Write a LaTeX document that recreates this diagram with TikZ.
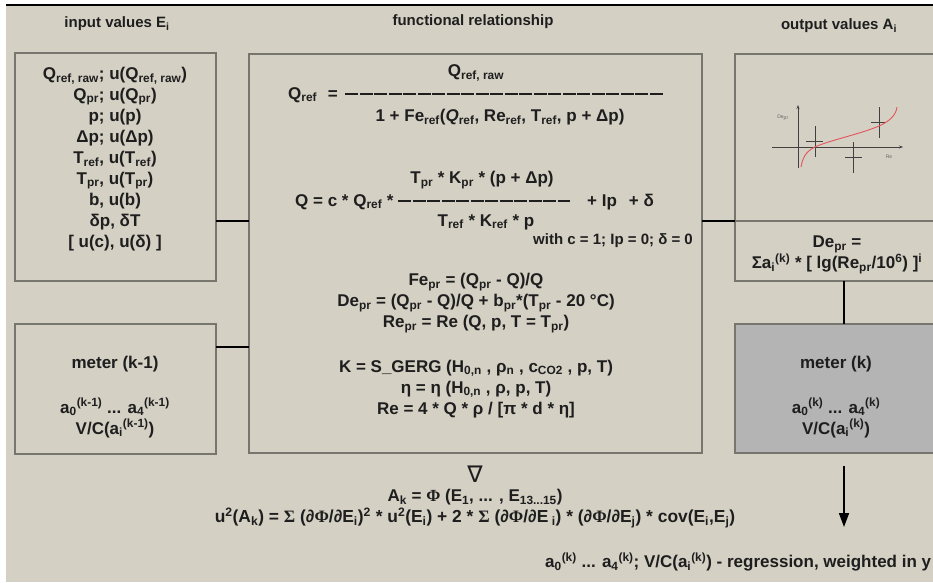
\documentclass[tikz,border=0pt]{standalone}
\usepackage{fontspec}
\setmainfont{Liberation Sans}
\newfontfamily\dejavu{DejaVu Sans}
\newfontfamily\serifgr{Liberation Serif}
\usetikzlibrary{arrows.meta}
\definecolor{bg}{RGB}{212,208,196}
\definecolor{edge}{RGB}{118,118,110}
\definecolor{meterfill}{RGB}{180,180,180}
\definecolor{curvered}{RGB}{228,84,92}
\definecolor{ink}{RGB}{30,30,30}
\newcommand\mysub[1]{\textsubscript{#1}}
\newcommand\mysup[1]{\textsuperscript{#1}}
\tikzset{
  box/.style={draw=edge, line width=1.2pt, fill=bg, inner sep=0pt, outer sep=0pt, anchor=north west},
  conn/.style={line width=1.8pt, draw=black},
  hdr/.style={font=\fontsize{15}{18}\selectfont\bfseries, text=ink, inner sep=0pt},
  txt/.style={font=\fontsize{17}{21}\selectfont\bfseries, text=ink, align=center, inner sep=0pt},
  small/.style={font=\fontsize{15}{18}\selectfont\bfseries, text=ink, inner sep=0pt},
  fracbar/.style={line width=1.3pt, draw=ink, dash pattern=on 13pt off 1.5pt},
  plotline/.style={line width=0.9pt, draw=black!75},
  tiny/.style={font=\fontsize{5}{6}\selectfont, text=black!60, inner sep=0pt}
}
\begin{document}
\begin{tikzpicture}[x=1pt,y=-1pt]
\useasboundingbox (0,0) rectangle (933,582);
\clip (0,0) rectangle (933,582);
\fill[white] (0,0) rectangle (933,582);
\fill[bg] (6,5) rectangle (933,582);
\draw[line width=2pt] (6,4.5) -- (933,4.5);

% headers
\node[hdr] (h1) at (117,24) {input values E\mysub{i}};
\node[hdr] (h2) at (473,22) {functional relationship};
\node[hdr] (h3) at (839,26) {output values A\mysub{i}};

% boxes
\node[box, minimum width=201pt, minimum height=228pt] (inbox) at (15,53) {};
\node[box, minimum width=201pt, minimum height=130pt] (meterprev) at (15,324) {};
\node[box, minimum width=453pt, minimum height=399pt] (func) at (249,54) {};
\node[box, minimum width=210pt, minimum height=167pt] (plotbox) at (735,54) {};
\node[box, minimum width=210pt, minimum height=60pt] (depr) at (735,221) {};
\node[box, fill=meterfill, minimum width=210pt, minimum height=129pt] (meterk) at (735,324) {};

% connectors
\coordinate (c1) at (0,221);
\coordinate (c2) at (0,347);
\draw[conn] (inbox.east |- c1) -- (func.west |- c1);
\draw[conn] (meterprev.east |- c2) -- (func.west |- c2);
\draw[conn] (func.east |- c1) -- (plotbox.south west);
\draw[conn] (depr.south -| 844,0) -- (meterk.north -| 844,0);
\coordinate (arrowstart) at (844,466);
\coordinate (arrowend) at (844,527);
\draw[line width=1.8pt, -{Triangle[length=14pt,width=10pt]}] (arrowstart) -- (arrowend);

% left box text
\node[txt] (intext) at (115,159) {Q\mysub{ref, raw}; u(Q\mysub{ref, raw})\\
Q\mysub{pr}; u(Q\mysub{pr})\\
p; u(p)\\
Δp; u(Δp)\\
T\mysub{ref}, u(T\mysub{ref})\\
T\mysub{pr}, u(T\mysub{pr})\\
b, u(b)\\
δp, δT\\
{[} u(c), u(δ) {]}};

% meter (k-1)
\node[txt] (mp1) at (115,364) {meter (k-1)};
\node[txt] (mp2) at (115,418) {a\mysub{0}\mysup{(k-1)} ... a\mysub{4}\mysup{(k-1)}\\V/C(a\mysub{i}\mysup{(k-1)})};

% functional relationship
\node[txt] (qraw) at (476,73) {Q\mysub{ref, raw}};
\node[txt, anchor=west] (qref) at (288,95) {Q\mysub{ref}\hspace{6pt} =};
\coordinate (bar1a) at (345,94);
\coordinate (bar1b) at (663,94);
\draw[fracbar] (bar1a) -- (bar1b);
\node[txt] (den1) at (500,117) {1 + Fe\mysub{ref}(\textit{Q}\mysub{ref}, Re\mysub{ref}, T\mysub{ref}, p + Δp)};
\node[txt] (num2) at (482,180) {T\mysub{pr} * K\mysub{pr} * (p + Δp)};
\node[txt, anchor=west] (qeq) at (295,202) {Q = c * Q\mysub{ref} *};
\coordinate (bar2a) at (398,201);
\coordinate (bar2b) at (570,201);
\draw[fracbar] (bar2a) -- (bar2b);
\node[txt, anchor=west] (ip) at (587,202) {+ Ip\hspace{12pt}+ δ};
\node[txt] (den2) at (486,222) {T\mysub{ref} * K\mysub{ref} * p};
\node[small, anchor=east] (with) at (693,241) {with c = 1; Ip = 0; δ = 0};
\node[txt] (fe) at (476,303) {Fe\mysub{pr} = (Q\mysub{pr} - Q)/Q\\
De\mysub{pr} = (Q\mysub{pr} - Q)/Q + b\mysub{pr}*(T\mysub{pr} - 20 °C)\\
Re\mysub{pr} = Re (Q, p, T = T\mysub{pr})};
\node[txt] (kk) at (476,389) {K = S\_GERG (H\mysub{0,n} , ρ\mysub{n} , c\mysub{CO2} , p, T)\\
η = η (H\mysub{0,n} , ρ, p, T)\\
Re = 4 * Q * ρ / {[}π * d * η{]}};

% output plot
\draw[plotline, -{Stealth[length=4pt,width=3pt]}] (772,147) -- (903,147);
\draw[plotline, -{Stealth[length=4pt,width=3pt]}] (798,168) -- (798,105);
\node[tiny] (ylab) at (783,118) {De\mysub{pr}};
\node[tiny] (xlab) at (889,157) {Re};
\draw[plotline] (815,126) -- (815,157) (806,141) -- (823,141);
\draw[plotline] (853,142) -- (853,173) (845,157) -- (862,157);
\draw[plotline] (879,107) -- (879,138) (871,122) -- (886,122);
\draw[curvered, line width=0.9pt] (801,167) .. controls (803,155) and (808,150) .. (817,146)
  .. controls (835,139) and (860,134) .. (879,126) .. controls (890,121) and (896,115) .. (897,107);

% De_pr box
\node[txt] (deprtext) at (837,255) {De\mysub{pr} =\\Σa\mysub{i}\mysup{(k)} * {[} lg(Re\mysub{pr}/10\mysup{6}) {]}\mysup{i}};

% meter (k)
\node[txt] (mk1) at (836,364) {meter (k)};
\node[txt] (mk2) at (836,418) {a\mysub{0}\mysup{(k)} ... a\mysub{4}\mysup{(k)}\\V/C(a\mysub{i}\mysup{(k)})};

% bottom
\node[font=\dejavu\fontsize{23}{25}\selectfont, text=ink, inner sep=0pt] (nabla) at (475,474) {∇};
\node[txt] (ak) at (475,497) {A\mysub{k} = {\serifgr Φ} (E\mysub{1}, ... , E\mysub{13...15})};
\node[txt, font=\fontsize{17.4}{21}\selectfont\bfseries] (u2) at (475,518) {u\mysup{2}(A\mysub{k}) = {\serifgr Σ} (∂{\serifgr Φ}/∂E\mysub{i})\mysup{2} * u\mysup{2}(E\mysub{i}) + 2 * {\serifgr Σ} (∂{\serifgr Φ}/∂E\mysub{ i}) * (∂{\serifgr Φ}/∂E\mysub{j}) * cov(E\mysub{i},E\mysub{j})};
\node[txt, anchor=west] (regr) at (545,562) {a\mysub{0}\mysup{(k)} ... a\mysub{4}\mysup{(k)}; V/C(a\mysub{i}\mysup{(k)}) - regression, weighted in y};
\end{tikzpicture}
\end{document}
